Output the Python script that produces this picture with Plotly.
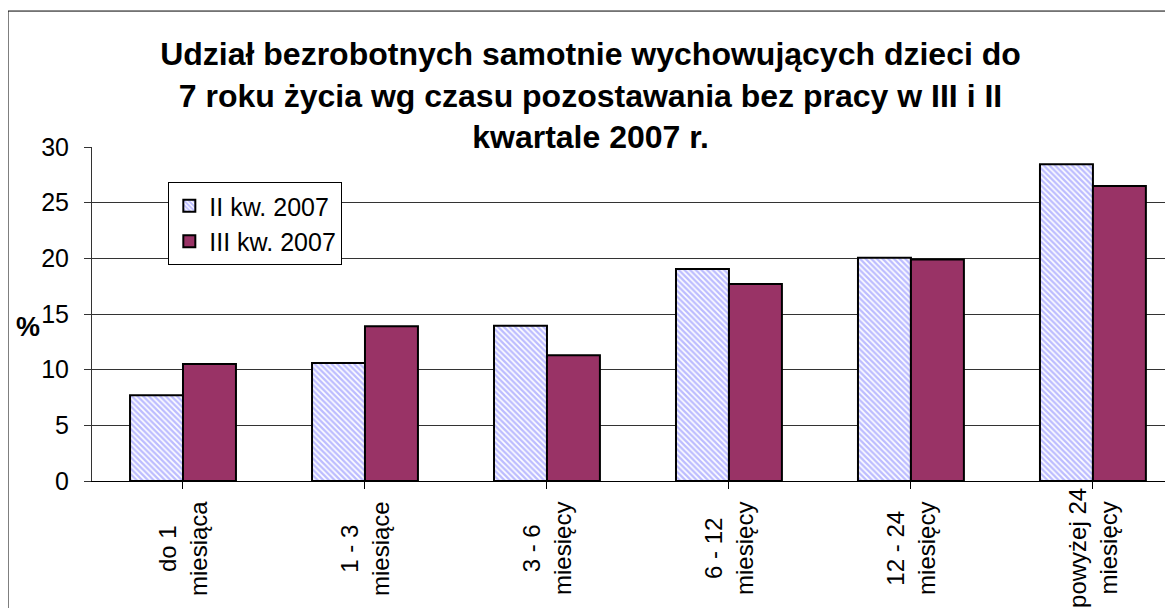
import plotly.graph_objects as go

categories = ["do 1<br>miesiąca", "1 - 3<br>miesiące", "3 - 6<br>miesięcy",
              "6 - 12<br>miesięcy", "12 - 24<br>miesięcy", "powyżej 24<br>miesięcy"]
series_names = ["II kw. 2007", "III kw. 2007"]
q2_values = [7.7, 10.6, 13.95, 19.05, 20.05, 28.45]
q3_values = [10.5, 13.9, 11.3, 17.7, 19.9, 26.5]
y_ticks = [0, 5, 10, 15, 20, 25, 30]
title_lines = ["Udział bezrobotnych samotnie wychowujących dzieci do",
               "7 roku życia wg czasu pozostawania bez pracy w III i II",
               "kwartale 2007 r."]

FONT = "Arial, Liberation Sans, sans-serif"
xs = list(range(len(categories)))

fig = go.Figure()
fig.add_trace(go.Bar(
    x=xs, y=q2_values, name=series_names[0], legendgroup="a",
    marker=dict(color="white", line=dict(color="black", width=2),
                pattern=dict(shape="\\", fgcolor="#7a7aff", bgcolor="white",
                             size=4, solidity=0.6)),
))
fig.add_trace(go.Bar(
    x=xs, y=q3_values, name=series_names[1], legendgroup="b",
    marker=dict(color="#993366", line=dict(color="black", width=2)),
))

for i, lab in enumerate(categories):
    fig.add_annotation(x=i, y=0, xref="x", yref="y", text=lab, textangle=-90,
                       showarrow=False, xanchor="center", yanchor="middle",
                       yshift=-67, align="center",
                       font=dict(family=FONT, size=24, color="black"))

fig.add_annotation(x=-0.059, y=0.461, xref="paper", yref="paper", text="<b>%</b>",
                   showarrow=False, xanchor="center", yanchor="middle",
                   font=dict(family=FONT, size=27, color="black"))

fig.add_shape(type="rect", xref="paper", yref="paper",
              x0=-0.0777, x1=1.2, y0=-1.0, y1=1.407,
              line=dict(color="black", width=1), fillcolor="rgba(0,0,0,0)", layer="above")

fig.update_layout(
    width=1165, height=600,
    margin=dict(l=84, r=0, t=139, b=127),
    paper_bgcolor="white", plot_bgcolor="white",
    barmode="group", bargap=0.418, bargroupgap=0,
    title=dict(text="<b>" + "<br>".join(title_lines) + "</b>",
               x=0.5, xref="container", xanchor="center",
               y=1 - 57 / 600, yref="container", yanchor="middle",
               font=dict(family=FONT, size=32, color="black")),
    showlegend=True,
    legend=dict(x=0.0706, y=0.895, xanchor="left", yanchor="top",
                bgcolor="white", bordercolor="black", borderwidth=1,
                font=dict(family=FONT, size=25, color="black"),
                tracegroupgap=6, traceorder="normal"),
    xaxis=dict(range=[-0.5, 5.44], tickmode="array", tickvals=xs,
               showticklabels=False, ticks="outside", tickson="boundaries",
               ticklen=7, tickcolor="black", showline=True, linecolor="black",
               linewidth=1, showgrid=False, zeroline=False, fixedrange=True),
    yaxis=dict(range=[0, 30], tickmode="array", tickvals=y_ticks,
               ticktext=[str(v) for v in y_ticks], ticks="outside", ticklen=7,
               tickcolor="#333", showline=True, linecolor="#333", linewidth=1,
               showgrid=True, gridcolor="#333", gridwidth=1, zeroline=False,
               ticklabelstandoff=10,
               tickfont=dict(family=FONT, size=25, color="black")),
)

fig.write_html("out.html")
